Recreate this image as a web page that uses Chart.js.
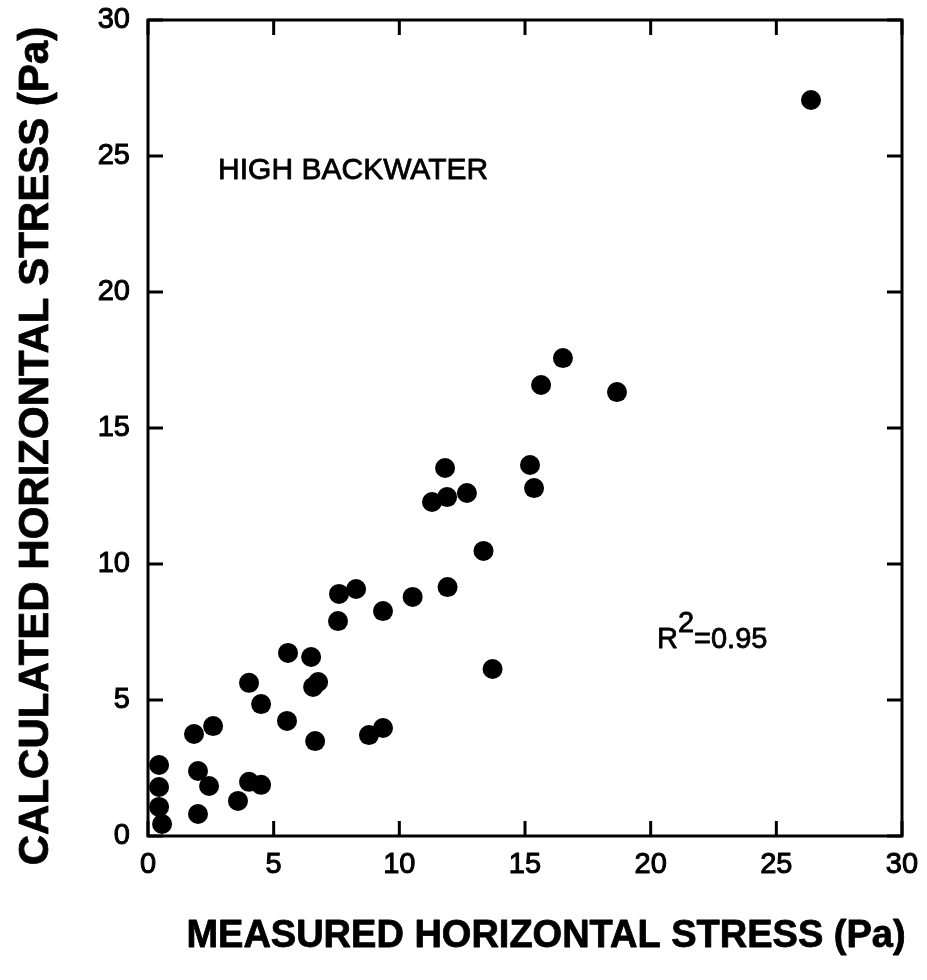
<!DOCTYPE html>
<html><head><meta charset="utf-8">
<script src="https://cdn.jsdelivr.net/npm/chart.js@4.4.0/dist/chart.umd.min.js"></script>
<style>html,body{margin:0;padding:0;background:#fff}canvas{display:block}</style>
</head><body>
<canvas id="c" width="927" height="980"></canvas>
<script>
// ---- data ----
const measured   = [26.38,16.51,15.64,18.66,15.20,11.82,15.36,11.30,11.90,12.69,
                    13.35,13.71,11.92,10.53, 9.35, 8.28, 7.60, 7.56, 5.57, 6.49,
                     4.02, 4.50, 6.57, 6.77, 5.53, 6.65, 1.83, 2.59, 8.79, 9.35,
                     0.44, 0.44, 0.44, 0.56, 1.99, 2.43, 1.99, 3.58, 4.02, 4.50];
const calculated = [27.06,17.57,16.58,16.32,13.64,13.53,12.79,12.28,12.46,12.61,
                    10.48, 6.14, 9.15, 8.79, 8.27, 9.08, 8.90, 7.90, 6.73, 6.58,
                     5.63, 4.85, 5.48, 5.66, 4.23, 3.49, 3.75, 4.04, 3.71, 3.97,
                     2.61, 1.80, 1.07, 0.44, 2.39, 1.84, 0.81, 1.29, 1.99, 1.88];
const tickValues = [0, 5, 10, 15, 20, 25, 30];
const xTitle = 'MEASURED HORIZONTAL STRESS (Pa)';
const yTitle = 'CALCULATED HORIZONTAL STRESS (Pa)';
const caseLabel = 'HIGH BACKWATER';
const r2Base = 'R', r2Sup = '2', r2Rest = '=0.95';

const FONT = '"Liberation Sans", Arial, Helvetica, sans-serif';
const points = measured.map((x, i) => ({x, y: calculated[i]}));

function heavyText(ctx, s, x, y, w) {
  ctx.lineWidth = w; ctx.lineJoin = 'round';
  ctx.strokeText(s, x, y); ctx.fillText(s, x, y);
}

const framePlugin = {
  id: 'frame',
  afterDatasetsDraw(chart) {
    const {ctx, chartArea: a, scales: {x, y}} = chart;
    ctx.save();
    ctx.strokeStyle = '#000';
    ctx.lineWidth = 3;
    ctx.lineCap = 'butt';
    ctx.strokeRect(a.left, a.top, a.right - a.left, a.bottom - a.top);
    const L = 15;
    ctx.beginPath();
    tickValues.forEach(v => {
      const px = x.getPixelForValue(v), py = y.getPixelForValue(v);
      ctx.moveTo(px, a.bottom); ctx.lineTo(px, a.bottom - L);
      ctx.moveTo(px, a.top); ctx.lineTo(px, a.top + L);
      ctx.moveTo(a.left, py); ctx.lineTo(a.left + L, py);
      ctx.moveTo(a.right, py); ctx.lineTo(a.right - L, py);
    });
    ctx.stroke();

    ctx.fillStyle = '#000';
    // annotation: case label
    ctx.font = '30px ' + FONT;
    ctx.textAlign = 'left'; ctx.textBaseline = 'alphabetic';
    heavyText(ctx, caseLabel, x.getPixelForValue(2.79), y.getPixelForValue(24.15), 0.8);
    // annotation: R^2
    ctx.font = '29px ' + FONT;
    let rx = x.getPixelForValue(20.25), ry = y.getPixelForValue(6.9);
    heavyText(ctx, r2Base, rx, ry, 0.8); rx += ctx.measureText(r2Base).width;
    heavyText(ctx, r2Sup, rx, ry - 16, 0.8); rx += ctx.measureText(r2Sup).width;
    heavyText(ctx, r2Rest, rx, ry, 0.8);

    // axis titles
    ctx.font = 'bold 38px ' + FONT;
    ctx.textAlign = 'center'; ctx.textBaseline = 'middle';
    heavyText(ctx, xTitle, 546, 937, 0.8);
    ctx.save();
    ctx.translate(36, 446);
    ctx.rotate(-Math.PI / 2);
    ctx.font = 'bold 42px ' + FONT;
    heavyText(ctx, yTitle, 0, 0, 0.8);
    ctx.restore();
    ctx.restore();
  }
};

new Chart(document.getElementById('c'), {
  type: 'scatter',
  data: { datasets: [{
    data: points,
    backgroundColor: '#000', borderColor: '#000',
    pointRadius: 10, pointHoverRadius: 10, borderWidth: 0
  }]},
  options: {
    responsive: false, animation: false, devicePixelRatio: 1,
    layout: { padding: { left: 0, right: 25, top: 20, bottom: 0 } },
    plugins: { legend: { display: false }, tooltip: { enabled: false } },
    scales: {
      x: {
        type: 'linear', min: 0, max: 30,
        afterFit: s => { s.height = 144; s.paddingLeft = 0; s.paddingRight = 0; },
        afterBuildTicks: s => { s.ticks = tickValues.map(v => ({value: v})); },
        grid: { display: true, drawOnChartArea: false, drawTicks: false, color: 'rgba(0,0,0,0)' },
        border: { display: false },
        ticks: { color: '#000', padding: 12, font: { size: 29, family: FONT }, maxRotation: 0,
                 textStrokeColor: '#000', textStrokeWidth: 1 }
      },
      y: {
        type: 'linear', min: 0, max: 30,
        afterFit: s => { s.width = 148; s.paddingTop = 0; s.paddingBottom = 0; },
        afterBuildTicks: s => { s.ticks = tickValues.map(v => ({value: v})); },
        grid: { display: true, drawOnChartArea: false, drawTicks: false, color: 'rgba(0,0,0,0)' },
        border: { display: false },
        ticks: { color: '#000', padding: 18, font: { size: 29, family: FONT },
                 textStrokeColor: '#000', textStrokeWidth: 1 }
      }
    }
  },
  plugins: [framePlugin]
});
</script>
</body></html>
